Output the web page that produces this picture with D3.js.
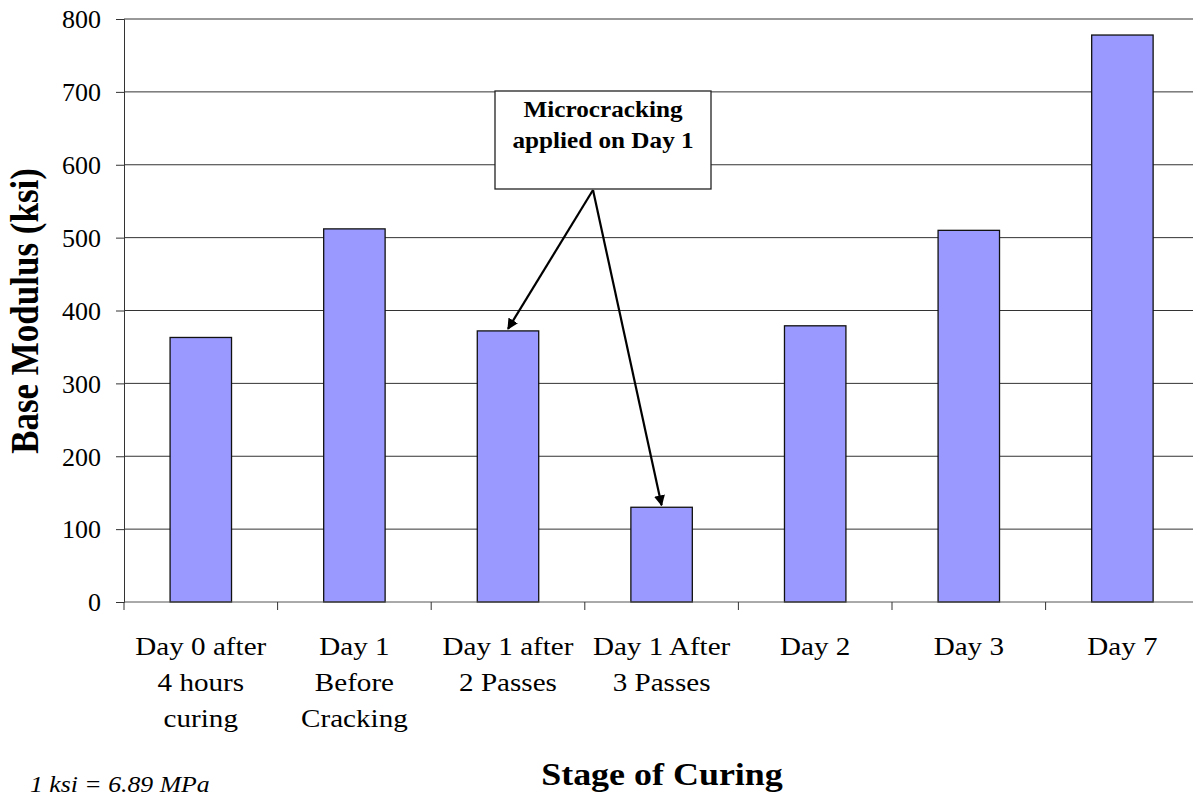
<!DOCTYPE html>
<html>
<head>
<meta charset="utf-8">
<script src="https://cdn.jsdelivr.net/npm/d3@7"></script>
<style>
  body { margin: 0; background: #fff; }
  svg text { font-family: "Liberation Serif", "Times New Roman", serif; fill: #000; }
</style>
</head>
<body>
<div id="chart"></div>
<script>
var categories = [
    ['Day 0 after', '4 hours', 'curing'],
    ['Day 1', 'Before', 'Cracking'],
    ['Day 1 after', '2 Passes'],
    ['Day 1 After', '3 Passes'],
    ['Day 2'],
    ['Day 3'],
    ['Day 7']
];
var modulus = [363, 512, 372, 130, 379, 510, 778];
var yTicks = [0, 100, 200, 300, 400, 500, 600, 700, 800];

var W = 1193, H = 797;
var plot = { left: 124, top: 19, bottom: 602, step: 153.6 };
// the original text is a little wider than it is tall
var SX = 1.12;

var svg = d3.select('#chart').append('svg')
    .attr('width', W)
    .attr('height', H);

var x = d3.scaleBand()
    .domain(d3.range(categories.length))
    .range([plot.left, plot.left + plot.step * categories.length])
    .paddingInner(0.6)
    .paddingOuter(0.3);

var y = d3.scaleLinear()
    .domain([0, 800])
    .range([plot.bottom, plot.top]);

// gridlines
svg.append('g')
    .selectAll('line')
    .data(yTicks.slice(1))
    .join('line')
        .attr('x1', plot.left)
        .attr('x2', W)
        .attr('y1', d => y(d))
        .attr('y2', d => y(d))
        .attr('stroke', '#333')
        .attr('stroke-width', 1);

// bars
svg.append('g')
    .selectAll('rect')
    .data(modulus)
    .join('rect')
        .attr('x', (d, i) => x(i))
        .attr('y', d => y(d))
        .attr('width', x.bandwidth())
        .attr('height', d => plot.bottom - y(d))
        .attr('fill', '#9999ff')
        .attr('stroke', '#111')
        .attr('stroke-width', 1.3);

// y axis
var yAxis = svg.append('g')
    .attr('transform', 'translate(' + plot.left + ',0)')
    .call(d3.axisLeft(y).tickValues(yTicks).tickSize(8).tickPadding(15));
yAxis.attr('font-family', null);
yAxis.select('.domain').attr('stroke', '#333');
yAxis.selectAll('.tick line').attr('stroke', '#333');
yAxis.selectAll('.tick text')
    .attr('font-size', 26)
    .attr('dy', '0.34em');

// x axis: ticks at category boundaries
var bounds = d3.range(categories.length + 1).map(i => plot.left + i * plot.step);
svg.append('line')
    .attr('x1', plot.left).attr('x2', W)
    .attr('y1', plot.bottom).attr('y2', plot.bottom)
    .attr('stroke', '#555');
svg.append('g')
    .selectAll('line')
    .data(bounds)
    .join('line')
        .attr('x1', d => d).attr('x2', d => d)
        .attr('y1', plot.bottom).attr('y2', plot.bottom + 8)
        .attr('stroke', '#333');

svg.append('g')
    .selectAll('text')
    .data(categories)
    .join('text')
        .attr('text-anchor', 'middle')
        .attr('font-size', 26)
        .attr('transform', (d, i) => 'translate(' + (x(i) + x.bandwidth() / 2) + ',655) scale(' + SX + ',1)')
        .selectAll('tspan')
        .data(d => d)
        .join('tspan')
            .attr('x', 0)
            .attr('y', (d, j) => j * 36)
            .text(d => d);

// axis titles
svg.append('text')
    .attr('transform', 'translate(38,311) scale(' + SX + ',1) rotate(-90)')
    .attr('text-anchor', 'middle')
    .attr('font-size', 35)
    .attr('font-weight', 'bold')
    .text('Base Modulus (ksi)');

svg.append('text')
    .attr('transform', 'translate(662,785) scale(1.16,1)')
    .attr('text-anchor', 'middle')
    .attr('font-size', 31)
    .attr('font-weight', 'bold')
    .text('Stage of Curing');

svg.append('text')
    .attr('transform', 'translate(30,792) scale(' + SX + ',1)')
    .attr('font-size', 23)
    .attr('font-style', 'italic')
    .text('1 ksi = 6.89 MPa');

// annotation
var defs = svg.append('defs');
defs.append('marker')
    .attr('id', 'arrow')
    .attr('viewBox', '0 0 10 10')
    .attr('refX', 9)
    .attr('refY', 5)
    .attr('markerWidth', 5)
    .attr('markerHeight', 5)
    .attr('orient', 'auto')
  .append('path')
    .attr('d', 'M0,0 L10,5 L0,10 Z')
    .attr('fill', '#000');

var note = { x: 495, y: 91, w: 216, h: 98, anchorX: 593 };
svg.append('rect')
    .attr('x', note.x).attr('y', note.y)
    .attr('width', note.w).attr('height', note.h)
    .attr('fill', '#fff')
    .attr('stroke', '#222')
    .attr('stroke-width', 1.3);

svg.append('text')
    .attr('transform', 'translate(' + (note.x + note.w / 2) + ',' + (note.y + 26) + ') scale(1.05,1)')
    .attr('text-anchor', 'middle')
    .attr('font-size', 24)
    .attr('font-weight', 'bold')
    .selectAll('tspan')
    .data(['Microcracking', 'applied on Day 1'])
    .join('tspan')
        .attr('x', 0)
        .attr('y', (d, j) => j * 31)
        .text(d => d);

[2, 3].forEach(i => {
    svg.append('line')
        .attr('x1', note.anchorX)
        .attr('y1', note.y + note.h + 1)
        .attr('x2', x(i) + x.bandwidth() / 2)
        .attr('y2', y(modulus[i]) - 2)
        .attr('stroke', '#000')
        .attr('stroke-width', 2.2)
        .attr('marker-end', 'url(#arrow)');
});
</script>
</body>
</html>
